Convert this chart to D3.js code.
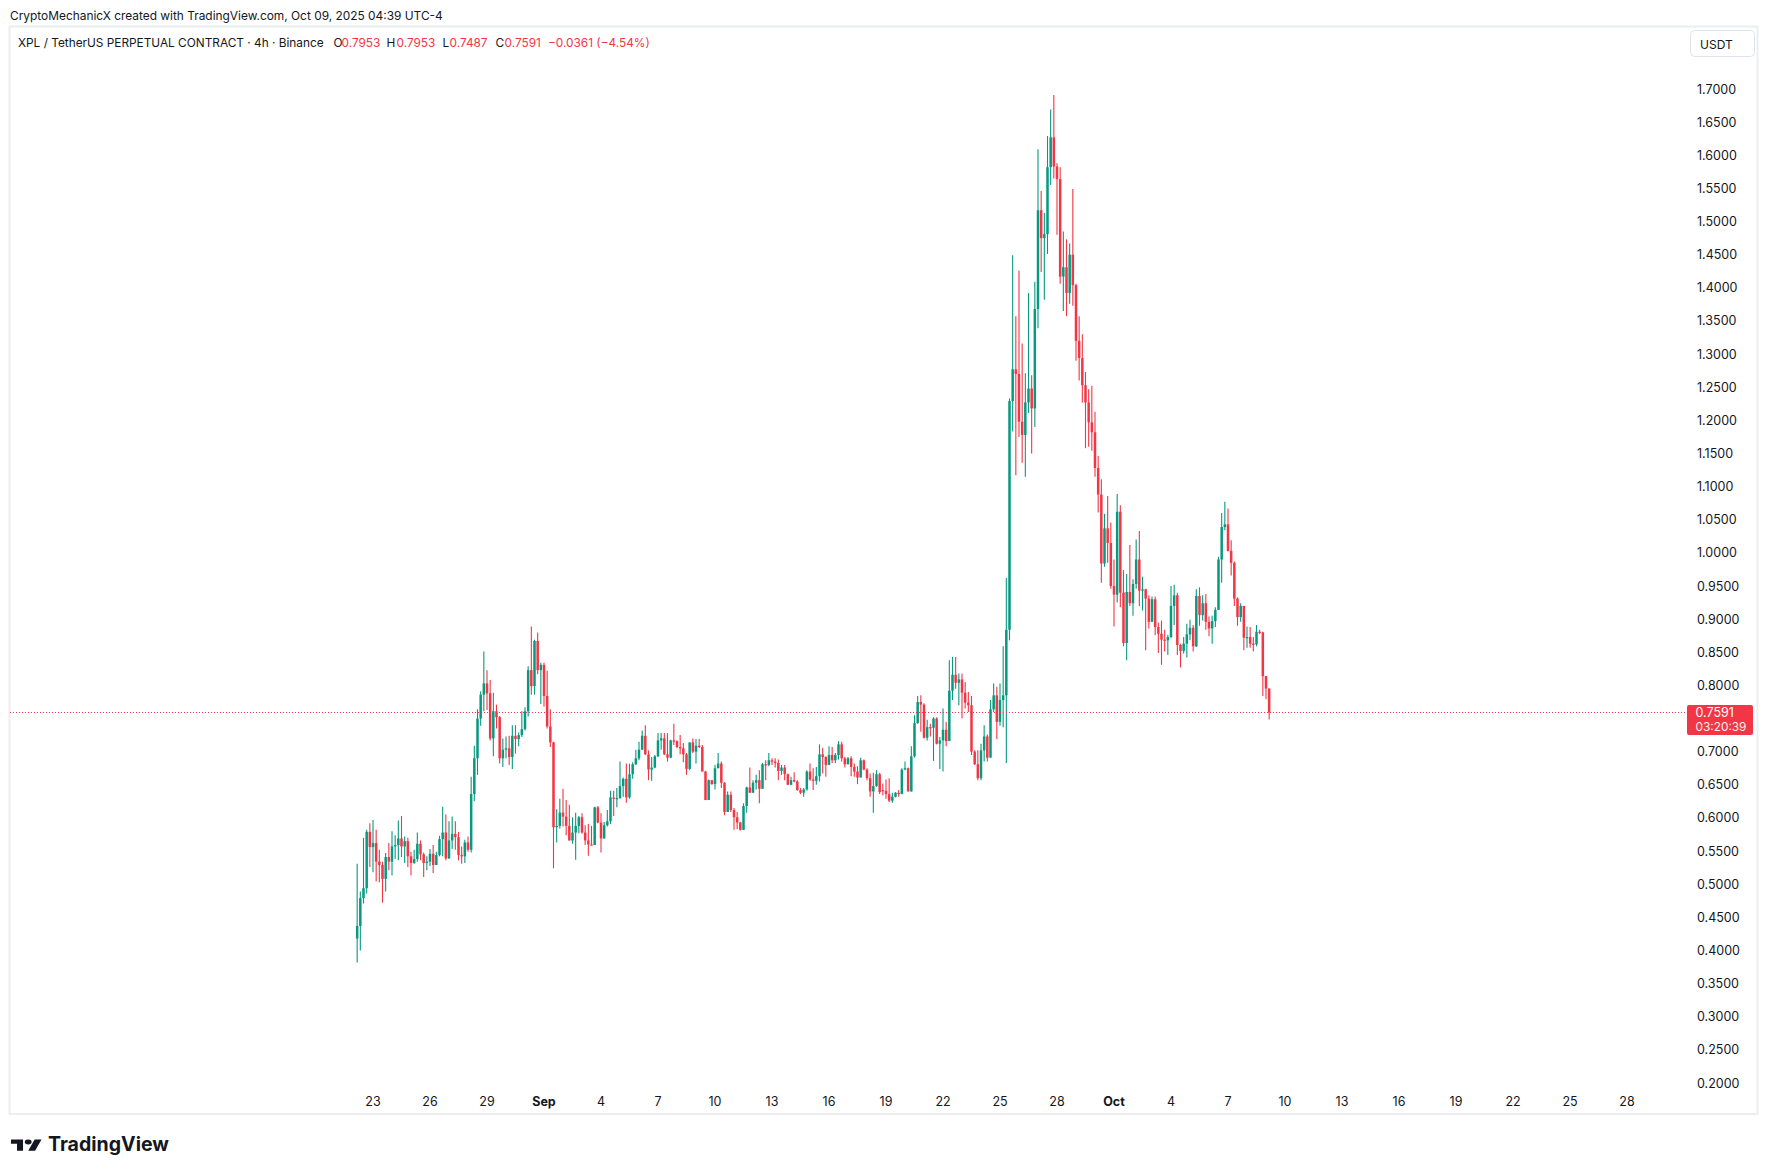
<!DOCTYPE html>
<html>
<head>
<meta charset="utf-8">
<script src="https://cdn.jsdelivr.net/npm/d3@7"></script>
<style>
  html, body { margin: 0; padding: 0; background: #fff; }
  svg { display: block; font-family: Inter, "Noto Sans", sans-serif; }
</style>
</head>
<body>
<svg id="chart" width="1768" height="1175"></svg>
<script>
// XPL / USDT perp, 4h bars
const firstBar = new Date(2025, 7, 22, 4);   // Aug 22 04:00 (UTC-4)
const barHours = 4;

// [open, high, low, close] per 4h bar
const ohlc = [
  [0.418,0.531,0.382,0.437],[0.437,0.489,0.400,0.479],[0.479,0.570,0.471,0.494],[0.494,0.582,0.486,0.579],[0.579,0.592,0.526,0.556],[0.556,0.597,0.518,0.562],
  [0.562,0.582,0.504,0.534],[0.534,0.552,0.503,0.529],[0.529,0.534,0.472,0.508],[0.508,0.547,0.489,0.541],[0.541,0.562,0.521,0.534],[0.534,0.580,0.513,0.557],
  [0.557,0.574,0.538,0.559],[0.559,0.596,0.536,0.569],[0.569,0.603,0.541,0.557],[0.557,0.572,0.532,0.565],[0.565,0.570,0.526,0.542],[0.542,0.549,0.513,0.532],
  [0.532,0.552,0.531,0.538],[0.538,0.578,0.534,0.561],[0.561,0.566,0.536,0.545],[0.545,0.548,0.511,0.532],[0.532,0.542,0.521,0.534],[0.534,0.553,0.527,0.546],
  [0.546,0.559,0.517,0.529],[0.529,0.549,0.529,0.544],[0.544,0.573,0.542,0.568],[0.568,0.617,0.542,0.578],[0.578,0.605,0.536,0.539],[0.539,0.595,0.538,0.566],
  [0.566,0.602,0.553,0.576],[0.576,0.595,0.552,0.571],[0.571,0.579,0.536,0.544],[0.544,0.557,0.531,0.542],[0.542,0.567,0.532,0.563],[0.563,0.572,0.549,0.552],
  [0.552,0.662,0.548,0.636],[0.636,0.709,0.625,0.690],[0.690,0.764,0.665,0.750],[0.750,0.791,0.739,0.786],[0.786,0.851,0.761,0.803],[0.803,0.823,0.763,0.788],
  [0.788,0.808,0.717,0.720],[0.720,0.789,0.693,0.761],[0.761,0.771,0.735,0.752],[0.752,0.754,0.682,0.690],[0.690,0.720,0.677,0.703],[0.703,0.723,0.690,0.705],
  [0.705,0.724,0.680,0.692],[0.692,0.740,0.674,0.724],[0.724,0.740,0.697,0.719],[0.719,0.729,0.708,0.725],[0.725,0.761,0.722,0.734],[0.734,0.767,0.732,0.761],
  [0.761,0.829,0.753,0.823],[0.823,0.889,0.786,0.799],[0.799,0.869,0.786,0.867],[0.867,0.880,0.817,0.823],[0.823,0.834,0.772,0.831],[0.831,0.834,0.768,0.784],
  [0.784,0.822,0.735,0.738],[0.738,0.764,0.707,0.714],[0.714,0.715,0.524,0.586],[0.586,0.613,0.563,0.588],[0.588,0.629,0.584,0.608],[0.608,0.644,0.587,0.602],
  [0.602,0.627,0.574,0.588],[0.588,0.620,0.566,0.566],[0.566,0.601,0.561,0.578],[0.578,0.608,0.537,0.588],[0.588,0.603,0.577,0.601],[0.601,0.607,0.576,0.578],
  [0.578,0.589,0.559,0.566],[0.566,0.591,0.543,0.560],[0.560,0.588,0.559,0.559],[0.559,0.617,0.559,0.616],[0.616,0.618,0.592,0.593],[0.593,0.607,0.548,0.569],
  [0.569,0.594,0.569,0.589],[0.589,0.612,0.587,0.595],[0.595,0.641,0.591,0.631],[0.631,0.641,0.603,0.629],[0.629,0.645,0.616,0.630],[0.630,0.685,0.629,0.648],
  [0.648,0.661,0.632,0.659],[0.659,0.682,0.623,0.631],[0.631,0.682,0.629,0.666],[0.666,0.684,0.659,0.681],[0.681,0.703,0.680,0.690],[0.690,0.715,0.687,0.703],
  [0.703,0.732,0.703,0.724],[0.724,0.740,0.695,0.696],[0.696,0.702,0.657,0.673],[0.673,0.692,0.656,0.676],[0.676,0.695,0.675,0.693],[0.693,0.728,0.692,0.717],
  [0.717,0.728,0.703,0.720],[0.720,0.728,0.695,0.696],[0.696,0.728,0.685,0.691],[0.691,0.718,0.690,0.717],[0.717,0.742,0.710,0.716],[0.716,0.717,0.705,0.707],
  [0.707,0.725,0.696,0.705],[0.705,0.713,0.684,0.696],[0.696,0.698,0.665,0.674],[0.674,0.714,0.672,0.714],[0.714,0.720,0.698,0.700],[0.700,0.719,0.682,0.709],
  [0.709,0.719,0.705,0.707],[0.707,0.710,0.670,0.670],[0.670,0.671,0.627,0.627],[0.627,0.658,0.627,0.657],[0.657,0.657,0.650,0.651],[0.651,0.680,0.643,0.675],
  [0.675,0.698,0.675,0.682],[0.682,0.685,0.645,0.653],[0.653,0.654,0.604,0.609],[0.609,0.640,0.609,0.635],[0.635,0.640,0.609,0.612],[0.612,0.615,0.582,0.601],
  [0.601,0.609,0.583,0.593],[0.593,0.594,0.581,0.582],[0.582,0.622,0.582,0.618],[0.618,0.647,0.608,0.646],[0.646,0.676,0.638,0.638],[0.638,0.657,0.638,0.653],
  [0.653,0.665,0.643,0.657],[0.657,0.672,0.622,0.644],[0.644,0.683,0.644,0.681],[0.681,0.687,0.657,0.680],[0.680,0.698,0.678,0.687],[0.687,0.690,0.680,0.685],
  [0.685,0.690,0.676,0.683],[0.683,0.688,0.657,0.671],[0.671,0.680,0.665,0.676],[0.676,0.680,0.657,0.666],[0.666,0.667,0.650,0.650],[0.650,0.662,0.650,0.657],
  [0.657,0.669,0.654,0.655],[0.655,0.657,0.641,0.642],[0.642,0.645,0.636,0.638],[0.638,0.645,0.632,0.643],[0.643,0.672,0.641,0.670],[0.670,0.682,0.656,0.658],
  [0.658,0.675,0.642,0.656],[0.656,0.677,0.650,0.663],[0.663,0.711,0.655,0.696],[0.696,0.706,0.667,0.692],[0.692,0.693,0.662,0.680],[0.680,0.708,0.680,0.695],
  [0.695,0.707,0.683,0.687],[0.687,0.698,0.683,0.695],[0.695,0.716,0.688,0.711],[0.711,0.715,0.685,0.690],[0.690,0.692,0.676,0.681],[0.681,0.692,0.681,0.690],
  [0.690,0.693,0.663,0.677],[0.677,0.682,0.662,0.670],[0.670,0.678,0.651,0.661],[0.661,0.691,0.661,0.687],[0.687,0.688,0.672,0.673],[0.673,0.675,0.657,0.660],
  [0.660,0.667,0.632,0.640],[0.640,0.668,0.608,0.648],[0.648,0.672,0.647,0.666],[0.666,0.668,0.636,0.639],[0.642,0.652,0.634,0.641],[0.641,0.658,0.629,0.636],
  [0.636,0.660,0.624,0.626],[0.626,0.638,0.623,0.632],[0.632,0.639,0.631,0.638],[0.638,0.642,0.632,0.636],[0.636,0.675,0.636,0.673],[0.673,0.685,0.672,0.675],
  [0.675,0.676,0.640,0.640],[0.640,0.708,0.640,0.693],[0.693,0.755,0.691,0.743],[0.743,0.784,0.742,0.775],[0.775,0.785,0.730,0.771],[0.771,0.773,0.720,0.721],
  [0.721,0.748,0.717,0.737],[0.737,0.742,0.723,0.736],[0.736,0.752,0.686,0.750],[0.750,0.752,0.711,0.712],[0.712,0.722,0.674,0.717],[0.717,0.765,0.670,0.733],
  [0.733,0.745,0.708,0.716],[0.716,0.838,0.716,0.792],[0.792,0.843,0.778,0.816],[0.816,0.843,0.795,0.804],[0.804,0.818,0.770,0.809],[0.809,0.818,0.750,0.789],
  [0.789,0.805,0.765,0.774],[0.774,0.790,0.760,0.770],[0.770,0.784,0.695,0.700],[0.700,0.702,0.680,0.681],[0.681,0.702,0.657,0.660],[0.660,0.712,0.657,0.702],
  [0.702,0.740,0.685,0.723],[0.723,0.726,0.685,0.691],[0.691,0.778,0.691,0.764],[0.764,0.803,0.760,0.785],[0.785,0.798,0.719,0.745],[0.745,0.803,0.739,0.778],
  [0.778,0.859,0.737,0.785],[0.785,0.962,0.683,0.884],[0.884,1.233,0.868,1.229],[1.229,1.449,1.183,1.277],[1.277,1.357,1.117,1.270],[1.270,1.426,1.175,1.198],
  [1.198,1.316,1.136,1.178],[1.178,1.271,1.115,1.227],[1.227,1.392,1.211,1.248],[1.248,1.268,1.150,1.218],[1.218,1.409,1.190,1.368],[1.368,1.609,1.339,1.517],
  [1.517,1.546,1.424,1.475],[1.475,1.513,1.382,1.481],[1.481,1.629,1.451,1.582],[1.582,1.669,1.555,1.627],[1.627,1.691,1.565,1.583],[1.583,1.588,1.480,1.564],
  [1.564,1.582,1.406,1.417],[1.417,1.485,1.365,1.431],[1.431,1.473,1.357,1.392],[1.392,1.467,1.376,1.450],[1.450,1.549,1.373,1.404],[1.404,1.406,1.290,1.320],
  [1.320,1.357,1.260,1.294],[1.294,1.330,1.227,1.253],[1.253,1.273,1.158,1.227],[1.227,1.247,1.160,1.197],[1.197,1.252,1.154,1.182],[1.182,1.213,1.115,1.128],
  [1.128,1.146,1.061,1.088],[1.088,1.111,0.955,0.984],[0.984,1.059,0.979,1.037],[1.037,1.086,0.985,1.015],[1.015,1.046,0.946,0.950],[0.950,0.990,0.889,0.937],
  [0.937,1.089,0.925,1.062],[1.062,1.072,0.918,0.940],[0.940,0.974,0.859,0.864],[0.864,0.968,0.838,0.941],[0.941,1.012,0.920,0.924],[0.924,0.960,0.905,0.953],
  [0.953,1.020,0.946,0.990],[0.990,1.033,0.920,0.943],[0.943,0.964,0.913,0.945],[0.945,0.946,0.853,0.931],[0.931,0.936,0.886,0.896],[0.896,0.934,0.896,0.930],
  [0.930,0.934,0.876,0.888],[0.888,0.895,0.849,0.878],[0.878,0.898,0.831,0.869],[0.869,0.884,0.851,0.868],[0.868,0.876,0.846,0.873],[0.873,0.950,0.871,0.920],
  [0.920,0.952,0.891,0.936],[0.936,0.940,0.846,0.861],[0.861,0.863,0.827,0.852],[0.852,0.873,0.848,0.863],[0.863,0.893,0.842,0.877],[0.877,0.899,0.868,0.887],
  [0.887,0.891,0.851,0.859],[0.859,0.945,0.858,0.935],[0.935,0.948,0.890,0.906],[0.906,0.936,0.898,0.924],[0.924,0.938,0.884,0.896],[0.896,0.904,0.874,0.886],
  [0.886,0.905,0.863,0.897],[0.897,0.918,0.888,0.914],[0.914,0.994,0.914,0.990],[0.990,1.060,0.955,1.039],[1.039,1.077,1.034,1.043],[1.043,1.067,1.002,1.003],
  [1.003,1.019,0.966,0.985],[0.985,0.987,0.920,0.931],[0.931,0.933,0.890,0.903],[0.903,0.924,0.896,0.920],[0.920,0.920,0.853,0.872],[0.872,0.889,0.857,0.873],
  [0.873,0.888,0.857,0.863],[0.863,0.873,0.851,0.862],[0.862,0.891,0.859,0.881],[0.881,0.884,0.877,0.880],[0.880,0.881,0.784,0.814],[0.814,0.814,0.779,0.7953],
  [0.7953,0.7953,0.7487,0.7591]
];

const priceTicks = [1.70,1.65,1.60,1.55,1.50,1.45,1.40,1.35,1.30,1.25,1.20,1.15,1.10,1.05,1.00,
                    0.95,0.90,0.85,0.80,0.75,0.70,0.65,0.60,0.55,0.50,0.45,0.40,0.35,0.30,0.25,0.20];
const axisStart = new Date(2025, 7, 23);
const axisEnd = new Date(2025, 9, 28);
const tickEveryDays = 3;

const lastPrice = 0.7591;
const countdown = "03:20:39";
const title = "XPL / TetherUS PERPETUAL CONTRACT · 4h · Binance";
const legendKeys = ["O", "H", "L", "C"];
const legendVals = ["0.7953", "0.7953", "0.7487", "0.7591"];
const changeText = "\u22120.0361 (\u22124.54%)";
const credit = "CryptoMechanicX created with TradingView.com, Oct 09, 2025 04:39 UTC-4";

const up = "#089981", down = "#f23645", ink = "#131722";

const svg = d3.select("#chart");

const x = d3.scaleTime().domain([axisStart, axisEnd]).range([373, 1627]);
const y = d3.scaleLinear().domain([0.2, 1.7]).range([1083, 89]);

// shrink a text's font until it spans the width seen in the screenshot
function fitWidth(sel, width) {
  const size = parseFloat(sel.style("font-size"));
  const w = sel.node().getComputedTextLength();
  if (w > 0) sel.style("font-size", (size * width / w).toFixed(2) + "px");
  return sel;
}

// frame
svg.append("rect")
  .attr("x", 9.5).attr("y", 26.5).attr("width", 1748).attr("height", 1087.5)
  .attr("fill", "none").attr("stroke", "#eceef2").attr("stroke-width", 2);

// credit line
fitWidth(svg.append("text")
  .attr("x", 10).attr("y", 15).attr("dominant-baseline", "central")
  .style("font-size", "13px").style("fill", ink).text(credit), 433);

// legend row
const legendY = 42.5;
function legendText(str, x0, color, size) {
  return svg.append("text").attr("x", x0).attr("y", legendY).attr("dominant-baseline", "central")
    .style("font-size", size).style("fill", color).text(str);
}
const titleText = fitWidth(legendText(title, 18, ink, "13px"), 306);
const legendSize = titleText.style("font-size");
const keyX = [333.5, 386.5, 442.5, 495.5];
const valX = [341.5, 396.5, 449.5, 504.5];
legendKeys.forEach(function (k, i) {
  legendText(k, keyX[i], ink, legendSize);
  legendText(legendVals[i], valX[i], down, legendSize);
});
legendText(changeText, 548, down, legendSize);

// candles
const bars = ohlc.map(function (d, i) {
  return { t: d3.timeHour.offset(firstBar, i * barHours), o: d[0], h: d[1], l: d[2], c: d[3] };
});
const bodyW = 2.5;
const g = svg.append("g");
const bar = g.selectAll("g").data(bars).enter().append("g")
  .attr("fill", function (d) { return d.c >= d.o ? up : down; })
  .attr("stroke", function (d) { return d.c >= d.o ? up : down; });
bar.append("line")
  .attr("x1", function (d) { return x(d.t); }).attr("x2", function (d) { return x(d.t); })
  .attr("y1", function (d) { return y(d.h); }).attr("y2", function (d) { return y(d.l); })
  .attr("stroke-width", 1.1);
bar.append("rect")
  .attr("stroke", "none")
  .attr("x", function (d) { return x(d.t) - bodyW / 2; })
  .attr("width", bodyW)
  .attr("y", function (d) { return y(Math.max(d.o, d.c)); })
  .attr("height", function (d) { return Math.max(1.2, Math.abs(y(d.o) - y(d.c))); });

// last price line
const lastY = y(lastPrice);
svg.append("line")
  .attr("x1", 10).attr("x2", 1686)
  .attr("y1", lastY).attr("y2", lastY)
  .attr("stroke", down).attr("stroke-width", 1).attr("stroke-dasharray", "1 2");

// price scale (the badge hides the label it sits on)
const badgeTop = lastY - 7.5, badgeBottom = lastY + 22.5;
svg.append("g").selectAll("text")
  .data(priceTicks.filter(function (d) { return y(d) < badgeTop - 4 || y(d) > badgeBottom + 4; }))
  .enter().append("text")
  .attr("x", 1697).attr("y", function (d) { return y(d); })
  .attr("dominant-baseline", "central")
  .style("font-size", "12.5px").style("fill", ink)
  .text(function (d) { return d.toFixed(4); });

// time scale
const monthFmt = d3.timeFormat("%b");
const dayFmt = d3.timeFormat("%-d");
const dateTicks = d3.timeDay.range(axisStart, d3.timeDay.offset(axisEnd, 1), tickEveryDays);
svg.append("g").selectAll("text").data(dateTicks).enter().append("text")
  .attr("x", function (d) { return x(d); }).attr("y", 1101)
  .attr("text-anchor", "middle").attr("dominant-baseline", "central")
  .style("font-size", "12.5px").style("fill", ink)
  .style("font-weight", function (d) { return d.getDate() === 1 ? 700 : 400; })
  .text(function (d) { return d.getDate() === 1 ? monthFmt(d) : dayFmt(d); });

// currency badge
svg.append("rect").attr("x", 1690.5).attr("y", 30.5).attr("width", 64).attr("height", 26).attr("rx", 4)
  .attr("fill", "#fff").attr("stroke", "#e0e3eb");
svg.append("text").attr("x", 1700).attr("y", 44).attr("dominant-baseline", "central")
  .style("font-size", "12px").style("fill", ink).text("USDT");

// last price badge
svg.append("rect").attr("x", 1687).attr("y", badgeTop).attr("width", 66).attr("height", badgeBottom - badgeTop).attr("rx", 2)
  .attr("fill", down);
svg.append("text").attr("x", 1695.5).attr("y", lastY).attr("dominant-baseline", "central")
  .style("font-size", "12.5px").style("fill", "#fff").text(lastPrice.toFixed(4));
fitWidth(svg.append("text").attr("x", 1695.5).attr("y", lastY + 14.5).attr("dominant-baseline", "central")
  .style("font-size", "12.5px").style("fill", "#fff").style("opacity", 0.92).text(countdown), 51);

// TradingView wordmark
const logo = svg.append("g").attr("transform", "translate(11,1137) scale(0.86,0.62)").attr("fill", ink);
logo.append("path").attr("d", "M14 22H7V11H0V4h14v18zM28 22h-8l7.5-18h8L28 22z");
logo.append("circle").attr("cx", 20).attr("cy", 8).attr("r", 4);
fitWidth(svg.append("text").attr("x", 48).attr("y", 1151)
  .style("font-size", "20px").style("font-weight", 700).style("fill", ink).text("TradingView"), 121);
</script>
</body>
</html>
